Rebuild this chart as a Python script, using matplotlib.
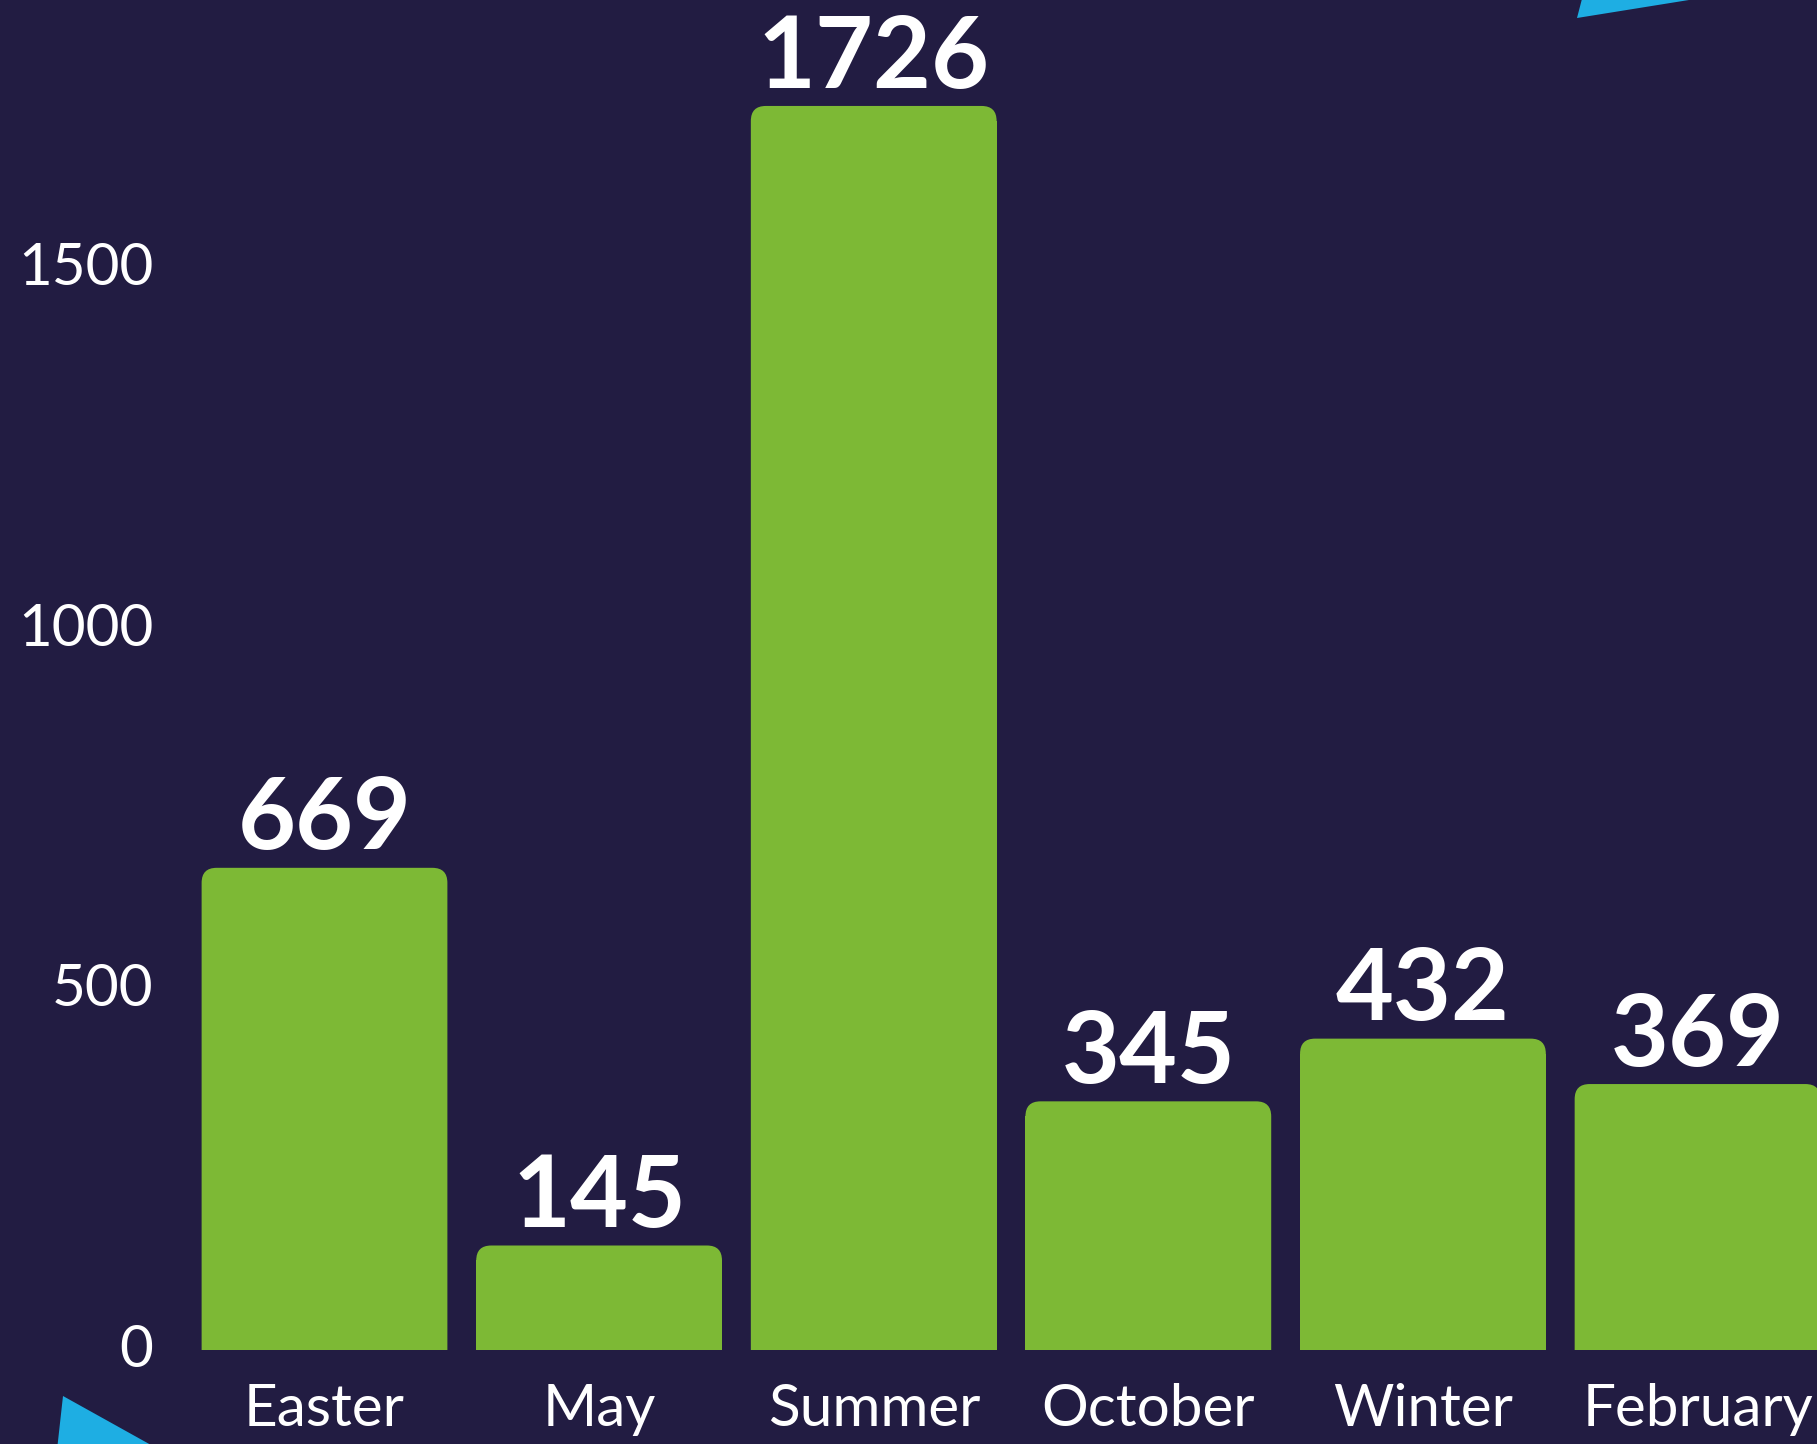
import numpy as np
import matplotlib
matplotlib.use("Agg")
import matplotlib.pyplot as plt
from matplotlib.patches import FancyBboxPatch, Polygon, Rectangle

# data
categories = ["Easter", "May", "Summer", "October", "Winter", "February"]
values = [669, 145, 1726, 345, 432, 369]
yticks = [0, 500, 1000, 1500]

bg = "#221c42"
green = "#7db935"
blue = "#1eaee3"

plt.rcParams['font.family'] = ['Lato', 'DejaVu Sans']

fig = plt.figure(figsize=(18.17, 14.44), dpi=100, facecolor=bg)
ax = fig.add_axes([0, 0, 1, 1])
ax.set_facecolor(bg)
ax.set_xlim(-1.1817, 5.435)
ax.set_ylim(-130.4, 1873)
ax.axis('off')

x = np.arange(len(categories))
w = 0.895
r = 0.0546          # corner radius in x units
aspect = 381        # y units per x unit on screen
ry = r * aspect

# clip region: everything above the baseline
clip = Rectangle((-5, 0), 20, 5000, transform=ax.transData, visible=False)
ax.add_patch(clip)

# square lower part + rounded top part
ax.bar(x, [v - ry for v in values], width=w, color=green, linewidth=0)
for xi, v, cat in zip(x, values, categories):
    p = FancyBboxPatch((xi - w / 2, -2 * ry), w, v + 2 * ry,
                       boxstyle="round,pad=0,rounding_size=%f" % r,
                       mutation_aspect=aspect, facecolor=green, edgecolor='none')
    ax.add_patch(p)
    p.set_clip_path(clip)
    ax.text(xi, v + 2, str(v), ha='center', va='bottom', color='white',
            fontsize=72, fontweight='bold')
    ax.text(xi, -83, cat, ha='center', va='center',
            color='white', fontsize=42, fontweight='normal')

for t in yticks:
    ax.text(-0.623, t, str(t), ha='right', va='center', color='white',
            fontsize=42, fontweight='normal')

# decorative triangles (pixel coords)
tr = fig.transFigure.inverted()
def px(pts):
    return [tr.transform((a, 1444 - b)) for a, b in pts]

fig.patches.append(Polygon(px([(1577, 18), (1583, -5), (1720, -5)]), closed=True,
                           facecolor=blue, edgecolor='none', transform=fig.transFigure))
fig.patches.append(Polygon(px([(63, 1396), (57, 1450), (160, 1450)]), closed=True,
                           facecolor=blue, edgecolor='none', transform=fig.transFigure))

fig.savefig("out.png", dpi=100, facecolor=bg)
